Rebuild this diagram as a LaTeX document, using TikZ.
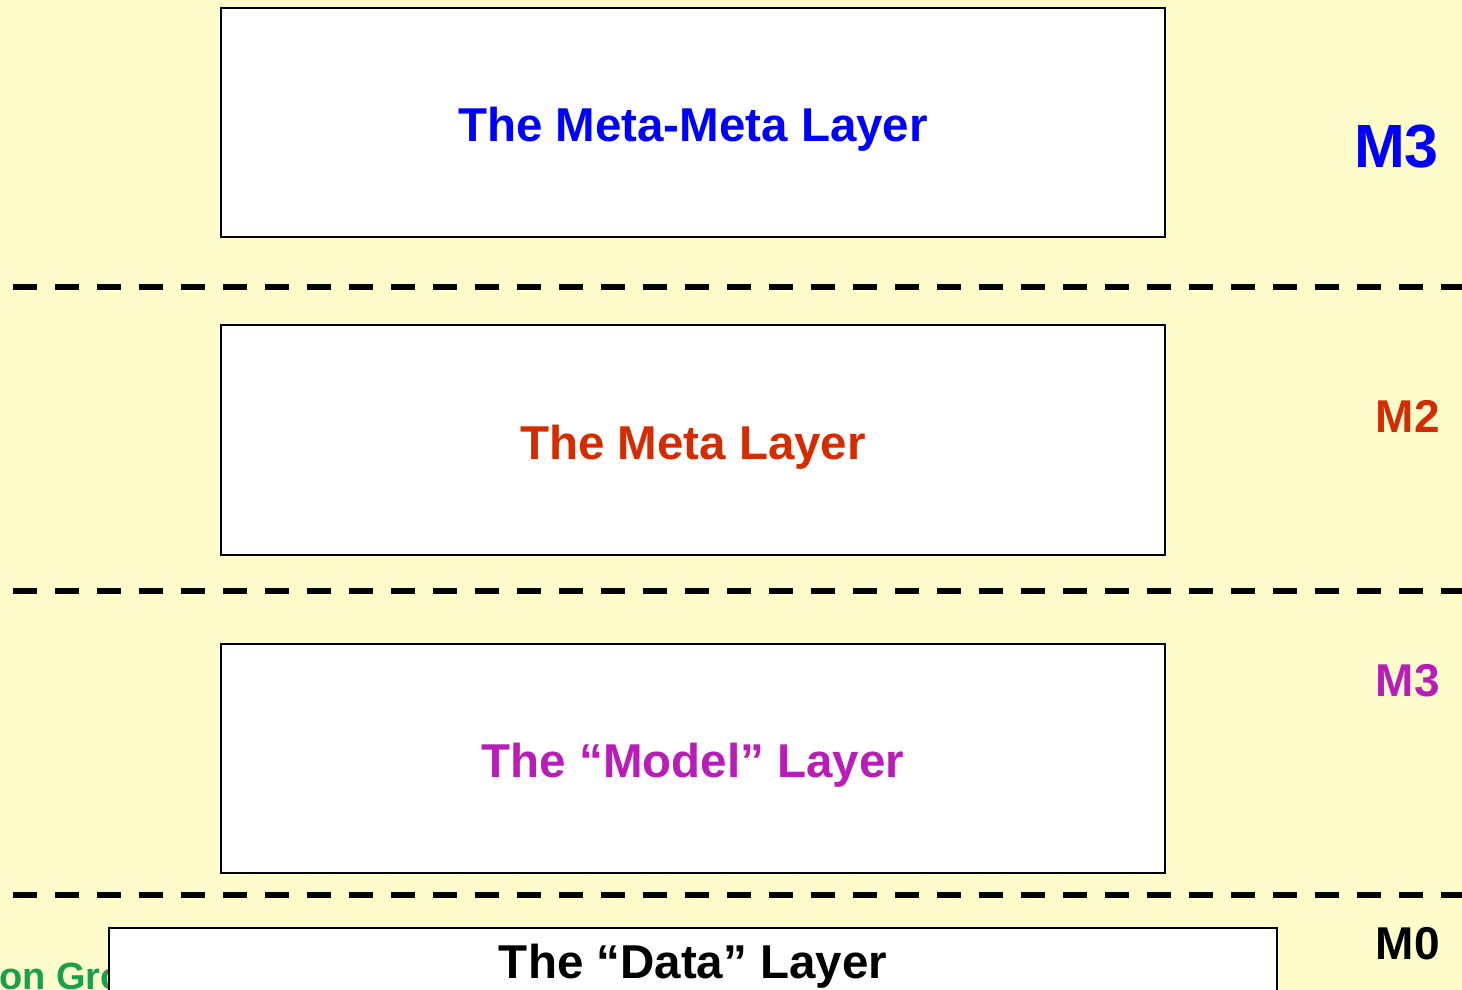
\documentclass[tikz,border=0pt]{standalone}
\usepackage{fontspec}
\setmainfont{Liberation Sans}
\definecolor{bgyellow}{RGB}{255,252,204}
\definecolor{mblue}{RGB}{0,0,255}
\definecolor{mred}{RGB}{212,44,0}
\definecolor{mmag}{RGB}{186,28,186}
\definecolor{mgreen}{RGB}{26,160,74}
\begin{document}
\begin{tikzpicture}[x=1pt,y=-1pt,
  layerbox/.style={draw=black,line width=1.6pt,fill=white},
  sep/.style={line width=6pt,dash pattern=on 24pt off 18pt},
  ltext/.style={font=\fontsize{47.5}{50}\selectfont\bfseries,anchor=base,inner sep=0pt},
  mtext/.style={font=\fontsize{46}{48}\selectfont\bfseries,anchor=base east,inner sep=0pt}]
\useasboundingbox (0,0) rectangle (1462,990);
\clip (0,0) rectangle (1462,990);
\fill[bgyellow] (0,0) rectangle (1462,990);
% separators
\coordinate (s1a) at (13,287); \coordinate (s1b) at (1462,287);
\coordinate (s2a) at (13,591); \coordinate (s2b) at (1462,591);
\coordinate (s3a) at (13,895); \coordinate (s3b) at (1462,895);
\draw[sep] (s1a) -- (s1b);
\draw[sep] (s2a) -- (s2b);
\draw[sep] (s3a) -- (s3b);
% green partial text (hidden by data box)
\node[font=\fontsize{38}{40}\selectfont\bfseries,text=mgreen,anchor=base west,inner sep=0pt] (grp) at (-1,989) {on Group};
% boxes
\draw[layerbox] (221,8) rectangle (1165,237);
\draw[layerbox] (221,325) rectangle (1165,555);
\draw[layerbox] (221,644) rectangle (1165,873);
\draw[layerbox] (109,928) rectangle (1277,1010);
% layer titles
\node[ltext,text=mblue] (t3) at (693,141) {The Meta-Meta Layer};
\node[ltext,text=mred] (t2) at (693,459) {The Meta Layer};
\node[ltext,text=mmag] (t1) at (693,777) {The “Model” Layer};
\node[ltext,text=black] (t0) at (693,978) {The “Data” Layer};
% level labels
\node[font=\fontsize{61}{64}\selectfont\bfseries,text=mblue,anchor=base east,inner sep=0pt] (m3a) at (1439,167) {M3};
\node[mtext,text=mred] (m2) at (1440,432) {M2};
\node[mtext,text=mmag] (m3b) at (1440,696) {M3};
\node[mtext,text=black] (m0) at (1440,959) {M0};
\end{tikzpicture}
\end{document}
